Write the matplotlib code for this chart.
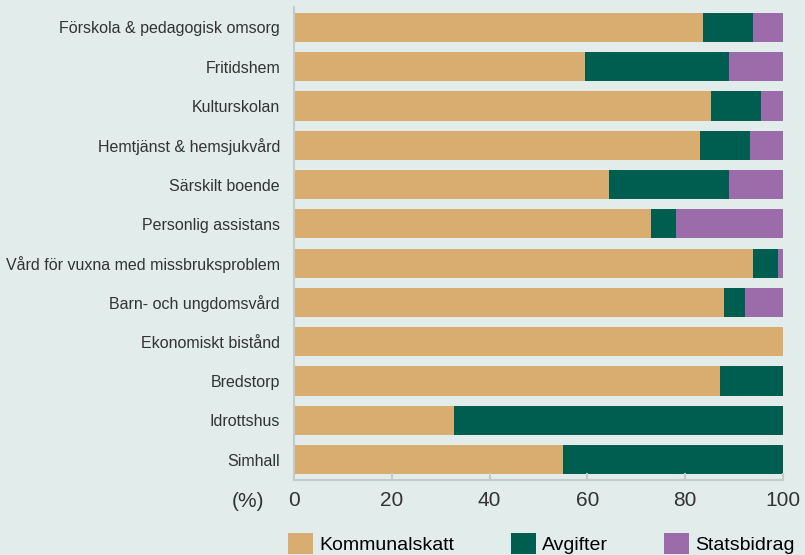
import matplotlib
matplotlib.use("Agg")
import matplotlib.pyplot as plt
from matplotlib import font_manager

categories = [
    "Förskola & pedagogisk omsorg",
    "Fritidshem",
    "Kulturskolan",
    "Hemtjänst & hemsjukvård",
    "Särskilt boende",
    "Personlig assistans",
    "Vård för vuxna med missbruksproblem",
    "Barn- och ungdomsvård",
    "Ekonomiskt bistånd",
    "Bredstorp",
    "Idrottshus",
    "Simhall",
]
kommunalskatt = [83.7, 59.5, 85.3, 83.1, 64.4, 73.1, 93.9, 88.0, 100.0, 87.2, 32.8, 55.0]
avgifter = [10.2, 29.5, 10.1, 10.1, 24.6, 5.1, 5.1, 4.3, 0.0, 12.8, 67.2, 45.0]
statsbidrag = [6.1, 11.0, 4.6, 6.8, 11.0, 21.8, 1.0, 7.7, 0.0, 0.0, 0.0, 0.0]
xticks = [0, 20, 40, 60, 80, 100]

bg = "#e2ecea"
colors = ["#d9ac70", "#005e50", "#9b6ca9"]
names = ["Kommunalskatt", "Avgifter", "Statsbidrag"]

narrow = "Liberation Sans Narrow"
have_narrow = any(f.name == narrow for f in font_manager.fontManager.ttflist)
tick_font = narrow if have_narrow else "Liberation Sans"

plt.rcParams["font.family"] = ["Liberation Sans", "DejaVu Sans"]

fig = plt.figure(figsize=(8.05, 5.55), dpi=100, facecolor=bg)
ax = fig.add_axes([294 / 805, 75 / 555, 489 / 805, 473 / 555])
ax.set_facecolor(bg)

y = list(range(len(categories)))
left = [0.0] * len(categories)
for vals, c, n in zip([kommunalskatt, avgifter, statsbidrag], colors, names):
    ax.barh(y, vals, left=left, height=0.74, color=c, label=n)
    left = [a + b for a, b in zip(left, vals)]

ax.set_xlim(0, 100)
ax.set_ylim(11.52, -0.52)
ax.set_yticks(y)
ax.set_yticklabels(categories, fontsize=11.5, color="#333333")
ax.tick_params(axis="y", length=0, pad=10)
ax.set_xticks(xticks)
ax.set_xticklabels([str(t) for t in xticks], fontsize=15, color="#333333",
                   family=tick_font)
ax.tick_params(axis="x", direction="in", length=5, color="#c3cbcb", width=1.5, pad=8)

for s in ["top", "right"]:
    ax.spines[s].set_visible(False)
for s in ["left", "bottom"]:
    ax.spines[s].set_color("#c3cbcb")
    ax.spines[s].set_linewidth(1.5)

ax.text(-0.06, -0.025, "(%)", transform=ax.transAxes, ha="right", va="top",
        fontsize=15, color="#333333", family=tick_font)

fig.legend(loc="upper left", bbox_to_anchor=(288 / 805, 1 - 533 / 555), ncol=3,
           frameon=False, prop={"family": tick_font, "size": 14},
           handlelength=1.3, handleheight=1.3, handletextpad=0.3,
           columnspacing=2.9, borderaxespad=0, borderpad=0)

fig.savefig("out.png", dpi=100, facecolor=bg)
